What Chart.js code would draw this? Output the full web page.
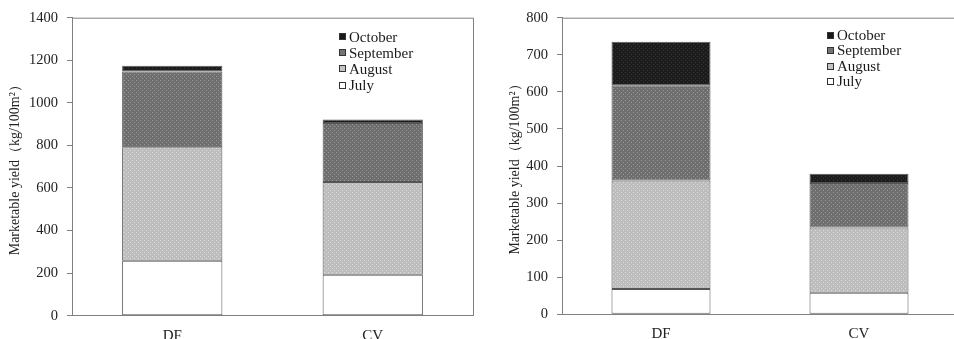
<!DOCTYPE html>
<html>
<head>
<meta charset="utf-8">
<script src="https://cdn.jsdelivr.net/npm/chart.js@4.4.0/dist/chart.umd.min.js"></script>
<style>
  html, body { margin: 0; padding: 0; background: #fff; overflow: hidden; width: 954px; height: 339px; }
  .panel { position: absolute; top: 0; height: 339px; }
  #panelL { left: 0; width: 477px; }
  #panelR { left: 477px; width: 482px; }
</style>
</head>
<body>
<div class="panel" id="panelL"><canvas id="yieldLeft" width="477" height="339"></canvas></div>
<div class="panel" id="panelR"><canvas id="yieldRight" width="482" height="339"></canvas></div>
<script>
// Cultivation types on the x axis
const categories = ['DF', 'CV'];
const months = ['July', 'August', 'September', 'October'];

// First panel: marketable yield per harvest month (kg/100m²)
const leftJuly = [258, 192];
const leftAugust = [533, 436];
const leftSeptember = [356, 277];
const leftOctober = [27, 17];
const leftTicks = [0, 200, 400, 600, 800, 1000, 1200, 1400];

// Second panel
const rightJuly = [68, 58];
const rightAugust = [293, 176];
const rightSeptember = [257, 120];
const rightOctober = [117, 25];
const rightTicks = [0, 100, 200, 300, 400, 500, 600, 700, 800];

const axisTitle = 'Marketable yield（kg/100m²）';
const serif = '"Liberation Serif", "Times New Roman", serif';

// Dotted fills for the stacked segments
function dotted(base, dot, step) {
  const c = document.createElement('canvas');
  c.width = step; c.height = step;
  const g = c.getContext('2d');
  g.fillStyle = base; g.fillRect(0, 0, step, step);
  g.fillStyle = dot;
  g.fillRect(0, 0, 1, 1);
  g.fillRect(step / 2, step / 2, 1, 1);
  return g.createPattern(c, 'repeat');
}

const fills = {
  July: { fill: '#ffffff', swatch: '#ffffff' },
  August: { fill: dotted('#bdbdbd', '#dcdcdc', 4), swatch: '#c4c4c4' },
  September: { fill: dotted('#6e6e6e', '#9a9a9a', 4), swatch: '#747474' },
  October: { fill: dotted('#1c1c1c', '#383838', 4), swatch: '#181818' }
};

// Frame on the top and right of the plot area
const plotFrame = {
  id: 'plotFrame',
  afterDatasetsDraw(chart) {
    const a = chart.chartArea, ctx = chart.ctx;
    ctx.save();
    ctx.strokeStyle = '#808080';
    ctx.lineWidth = 1;
    ctx.beginPath();
    ctx.moveTo(a.left, a.top + 0.5);
    ctx.lineTo(a.right + 0.5, a.top + 0.5);
    ctx.lineTo(a.right + 0.5, a.bottom);
    ctx.stroke();
    ctx.restore();
  }
};

// Legend drawn inside the plot, last series first
const boxLegend = {
  id: 'boxLegend',
  afterDraw(chart, args, opts) {
    const ctx = chart.ctx;
    const items = chart.data.datasets.slice().reverse();
    ctx.save();
    ctx.font = opts.font;
    ctx.textBaseline = 'middle';
    items.forEach((d, i) => {
      const cy = opts.y + i * opts.spacing;
      const bx = opts.x, by = Math.round(cy - opts.box / 2);
      ctx.fillStyle = fills[d.label].swatch;
      ctx.fillRect(bx, by, opts.box, opts.box);
      ctx.strokeStyle = '#333';
      ctx.lineWidth = 1;
      ctx.strokeRect(bx + 0.5, by + 0.5, opts.box - 1, opts.box - 1);
      ctx.fillStyle = '#1a1a1a';
      ctx.fillText(d.label, bx + opts.box + opts.gap, cy + 1);
    });
    ctx.restore();
  }
};

function makeChart(id, series, ticks, geo) {
  const datasets = months.map((m, i) => ({
    label: m,
    data: series[i],
    backgroundColor: fills[m].fill,
    borderColor: '#555',
    borderWidth: 1,
    borderSkipped: false,
    barPercentage: 1,
    categoryPercentage: 0.5
  }));
  return new Chart(document.getElementById(id), {
    type: 'bar',
    data: { labels: categories, datasets },
    plugins: [plotFrame, boxLegend],
    options: {
      responsive: false,
      animation: false,
      devicePixelRatio: 1,
      layout: { padding: { top: geo.top, right: geo.right, left: 0, bottom: 0 } },
      plugins: {
        legend: { display: false },
        tooltip: { enabled: false },
        boxLegend: geo.legend
      },
      scales: {
        x: {
          stacked: true,
          grid: { drawOnChartArea: false, drawTicks: false },
          border: { color: '#808080', width: 1 },
          ticks: { color: '#222', font: { family: serif, size: 15 }, padding: 11 },
          afterFit(s) { s.height = geo.xHeight; }
        },
        y: {
          stacked: true,
          min: ticks[0],
          max: ticks[ticks.length - 1],
          afterBuildTicks(s) { s.ticks = ticks.map(v => ({ value: v })); },
          grid: { drawOnChartArea: false, drawTicks: true, tickLength: 5, color: '#808080' },
          border: { color: '#808080', width: 1 },
          ticks: {
            color: '#222',
            font: { family: serif, size: 14.5 },
            padding: 9,
            callback: v => String(v)
          },
          title: {
            display: true,
            text: axisTitle,
            color: '#222',
            font: { family: serif, size: 14 },
            padding: { top: geo.titlePad, bottom: 0 }
          },
          afterFit(s) { s.width = geo.yWidth; }
        }
      }
    }
  });
}

makeChart('yieldLeft', [leftJuly, leftAugust, leftSeptember, leftOctober], leftTicks, {
  top: 14, right: 4, yWidth: 72, xHeight: 23.3, titlePad: 7,
  legend: { x: 339, y: 36.7, spacing: 16.1, box: 7, gap: 3, font: '15px ' + serif }
});

makeChart('yieldRight', [rightJuly, rightAugust, rightSeptember, rightOctober], rightTicks, {
  top: 13.3, right: 1, yWidth: 85, xHeight: 24.7, titlePad: 30,
  legend: { x: 350, y: 35, spacing: 15.5, box: 7, gap: 3, font: '15px ' + serif }
});
</script>
</body>
</html>
